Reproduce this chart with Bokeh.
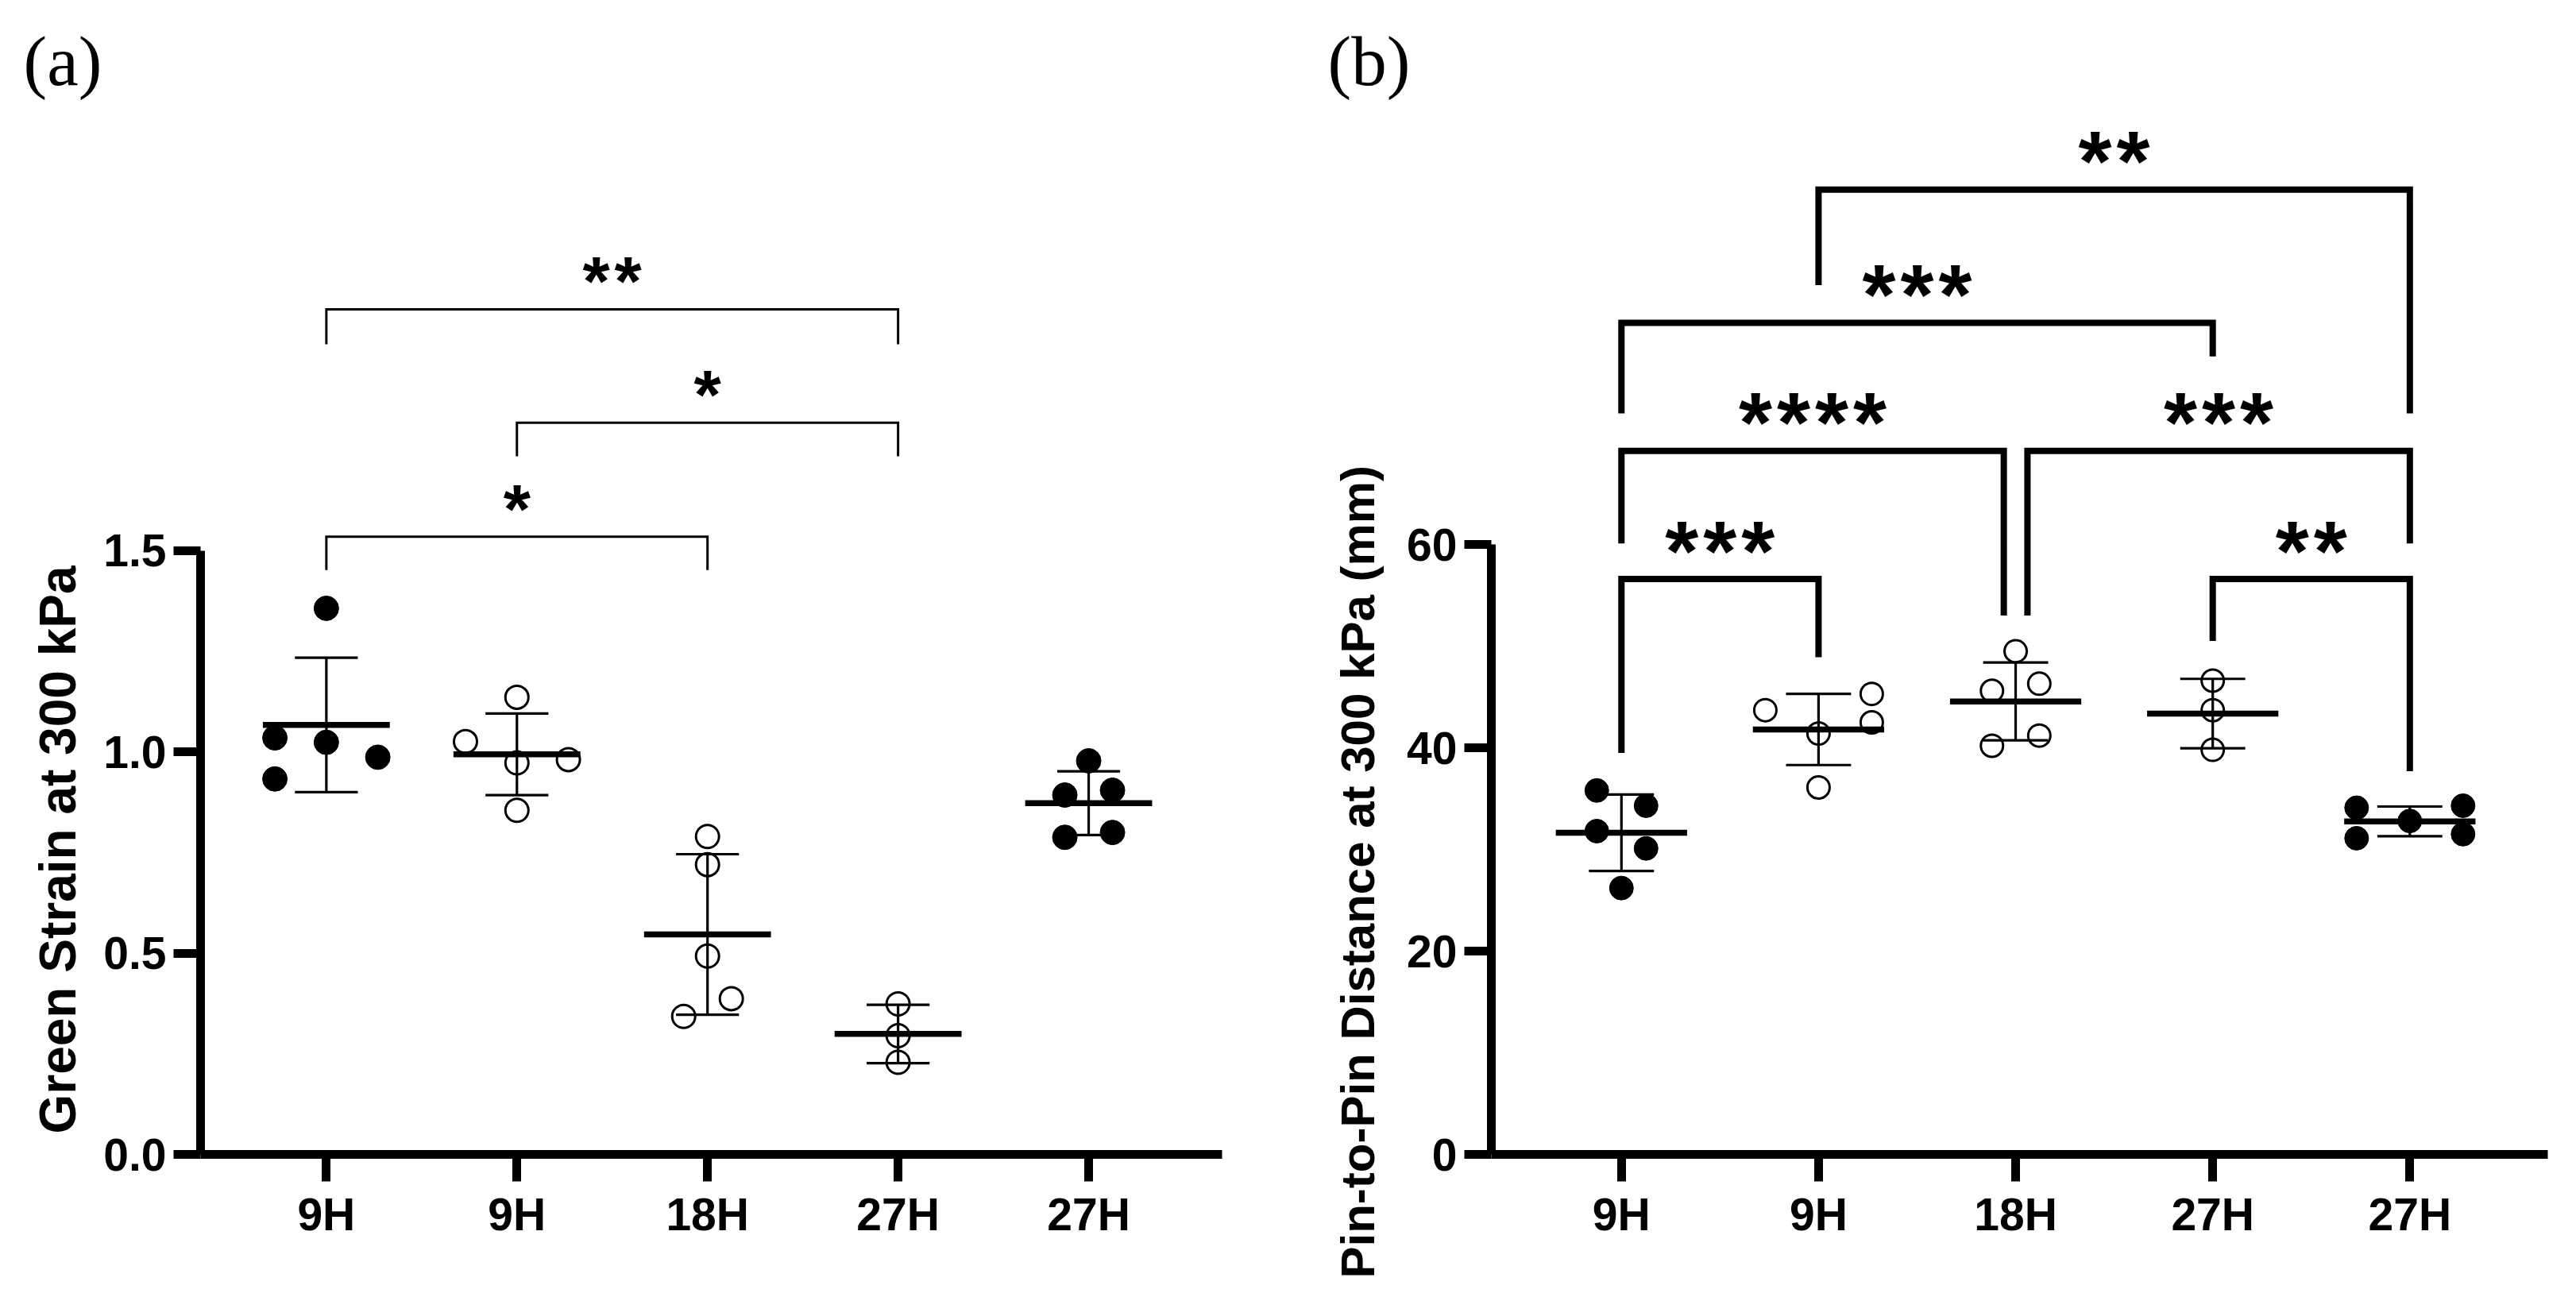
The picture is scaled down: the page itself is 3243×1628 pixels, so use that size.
import numpy as np
from bokeh.plotting import figure
from bokeh.layouts import row
from bokeh.models import FixedTicker, Title
from bokeh.core.properties import value
from bokeh.embed import file_html
from bokeh.resources import INLINE

# ---------------- data ----------------
categories = ["9H", "9H", "18H", "27H", "27H"]
filled_groups = [True, False, False, False, True]

# (a) Green strain at 300 kPa
strain_9H_filled = [1.357, 1.035, 1.024, 0.987, 0.933]
strain_9H_open = [1.136, 1.026, 0.973, 0.981, 0.855]
strain_18H_open = [0.790, 0.720, 0.493, 0.387, 0.343]
strain_27H_open = [0.374, 0.295, 0.229]
strain_27H_filled = [0.978, 0.893, 0.905, 0.788, 0.800]

# (b) Pin-to-pin distance at 300 kPa (mm)
dist_9H_filled = [35.8, 34.3, 31.8, 30.1, 26.2]
dist_9H_open = [43.7, 41.4, 45.3, 42.5, 36.1]
dist_18H_open = [49.5, 45.6, 46.3, 41.2, 40.2]
dist_27H_open = [46.6, 43.7, 39.8]
dist_27H_filled = [34.1, 31.1, 32.8, 34.3, 31.5]

y_ticks_a = [0.0, 0.5, 1.0, 1.5]
y_labels_a = ["0.0", "0.5", "1.0", "1.5"]
y_ticks_b = [0, 20, 40, 60]
y_labels_b = ["0", "20", "40", "60"]

# significance brackets: group pairs, bar height, leg ends, label
sig_pairs_a = [(0, 2), (1, 3), (0, 3)]
sig_bar_a = [1.535, 1.818, 2.10]
sig_legs_a = [(1.452, 1.452), (1.735, 1.735), (2.013, 2.013)]
sig_text_a = ["*", "*", "**"]

sig_pairs_b = [(0, 1), (3, 4), (0, 2), (2, 4), (0, 3), (1, 4)]
sig_bar_b = [56.6, 56.6, 69.2, 69.2, 81.8, 94.9]
sig_legs_b = [(39.5, 48.9), (50.5, 37.7), (60.1, 53.0), (53.0, 60.1), (72.9, 78.5), (85.5, 72.9)]
sig_text_b = ["***", "**", "****", "***", "***", "**"]

# ---------------- layout helpers ----------------
jitter_a = [[0, -0.27, 0, 0.27, -0.27], [0, -0.27, 0, 0.27, 0], [0, 0, 0, 0.125, -0.125],
            [0, 0, 0], [0, -0.125, 0.125, -0.125, 0.125]]
jitter_b = [[-0.125, 0.125, -0.125, 0.125, 0], [-0.27, 0, 0.27, 0.27, 0], [0, -0.12, 0.12, 0.12, -0.12],
            [0, 0, 0], [-0.27, -0.27, 0, 0.27, 0.27]]
leg_shift_a = [(0, 0), (0, 0), (0, 0)]
leg_shift_b = [(0, 0), (0, 0), (0, -0.06), (0.06, 0), (0, 0), (0, 0)]

FONT = "Liberation Sans"
H = 1620
TOP = 146
BOTTOM = H - 1453
X0, X1 = -0.66, 4.70


def make_panel(groups, jitter, yt, yl, ybound, px_per_unit, ytitle, ytitle_start, ytitle_standoff,
               ytitle_size, width, left, right,
               pairs, bars, legs, texts, shifts, bw, star_size, star_gap, star_lift,
               tag, tag_px, msize):
    frame_h = H - TOP - BOTTOM
    yend = frame_h / px_per_unit
    p = figure(width=width, height=H, x_range=(X0, X1), y_range=(0, yend),
               output_backend="svg", toolbar_location=None,
               min_border_left=left, min_border_right=right,
               min_border_top=TOP, min_border_bottom=BOTTOM)
    p.grid.visible = False
    p.outline_line_color = None
    p.background_fill_color = "white"
    p.border_fill_color = "white"

    for i, (vals, jit) in enumerate(zip(groups, jitter)):
        v = np.array(vals, dtype=float)
        xs = [i + j for j in jit]
        if filled_groups[i]:
            p.scatter(xs, v, marker="circle", size=msize, fill_color="black", line_color="black")
        else:
            p.scatter(xs, v, marker="circle", size=msize - 2, fill_alpha=0, line_color="black",
                      line_width=3)
        m = v.mean()
        sd = v.std(ddof=1)
        p.segment(x0=[i], y0=[m - sd], x1=[i], y1=[m + sd], line_color="black", line_width=3.2)
        p.segment(x0=[i - 0.165, i - 0.165], y0=[m - sd, m + sd], x1=[i + 0.165, i + 0.165],
                  y1=[m - sd, m + sd], line_color="black", line_width=3.2)
        p.segment(x0=[i - 0.333], y0=[m], x1=[i + 0.333], y1=[m], line_color="black", line_width=7.5)

    xs, ys = [], []
    sx, sy, st, so = [], [], [], []
    for (i0, i1), bar, (l0, l1), t, (d0, d1) in zip(pairs, bars, legs, texts, shifts):
        x0, x1 = i0 + d0, i1 + d1
        xs.append([x0, x0, x1, x1])
        ys.append([l0, bar, bar, l1])
        n = len(t)
        for k in range(n):
            sx.append((x0 + x1) / 2)
            sy.append(bar)
            st.append("*")
            so.append((k - (n - 1) / 2) * star_gap)
    p.multi_line(xs, ys, line_color="black", line_width=bw, line_join="miter")
    p.text(x=sx, y=sy, text=st, x_offset=so, y_offset=0.13 * star_size - star_lift,
           text_align="center", text_baseline="alphabetic", text_color="black",
           text_font=value(FONT), text_font_style="bold", text_font_size=f"{star_size}px")

    xa, ya = p.xaxis[0], p.yaxis[0]
    xa.ticker = FixedTicker(ticks=list(range(len(categories))))
    xa.major_label_overrides = {i: c for i, c in enumerate(categories)}
    ya.ticker = FixedTicker(ticks=yt)
    ya.major_label_overrides = {t: l for t, l in zip(yt, yl)}
    ya.bounds = (0, ybound)
    for ax in (xa, ya):
        ax.axis_line_width = 11
        ax.axis_line_color = "black"
        ax.major_tick_line_width = 11
        ax.major_tick_line_color = "black"
        ax.major_tick_out = 34
        ax.major_tick_in = 0
        ax.minor_tick_line_color = None
        ax.major_label_text_font = FONT
        ax.major_label_text_font_style = "bold"
        ax.major_label_text_font_size = "57px"
        ax.major_label_text_color = "black"
        ax.major_label_standoff = 9

    # y-axis title, placed along the drawn axis line (starts near its lower end)
    frame_bottom = TOP + frame_h
    p.add_layout(Title(text=ytitle, align="left", offset=frame_bottom - ytitle_start,
                       standoff=ytitle_standoff, text_font=FONT, text_font_style="bold",
                       text_font_size=f"{ytitle_size}px", text_color="black"), "left")

    # panel tag
    p.add_layout(Title(text=tag, align="left", offset=tag_px - left, standoff=42,
                       text_font="Liberation Serif", text_font_style="normal",
                       text_font_size="89px", text_color="black"), "above")
    return p


pa = make_panel([strain_9H_filled, strain_9H_open, strain_18H_open, strain_27H_open, strain_27H_filled],
                jitter_a, y_ticks_a, y_labels_a, 1.5, 506.7, "Green Strain at 300 kPa", 1427, 38, 64,
                1600, 252, 62,
                sig_pairs_a, sig_bar_a, sig_legs_a, sig_text_a, leg_shift_a,
                3, 88, 40, 47, "(a)", 29, 31)

pb = make_panel([dist_9H_filled, dist_9H_open, dist_18H_open, dist_27H_open, dist_27H_filled],
                jitter_b, y_ticks_b, y_labels_b, 60, 12.8, "Pin-to-Pin Distance at 300 kPa (mm)", 1609, 51, 60,
                1635, 277, 28,
                sig_pairs_b, sig_bar_b, sig_legs_b, sig_text_b, leg_shift_b,
                8, 108, 48, 50, "(b)", 71, 30)

layout = row(pa, pb)
open("out.html", "w").write(file_html(layout, INLINE))
